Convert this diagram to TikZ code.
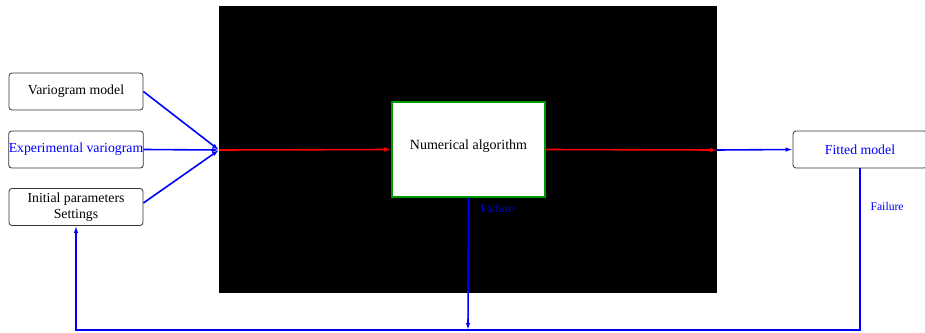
\documentclass[tikz,border=0pt]{standalone}
\usepackage{fontspec}
\setmainfont{Liberation Serif}
\usetikzlibrary{arrows.meta}
\begin{document}
\begin{tikzpicture}[x=1pt,y=-1pt,
  inbox/.style={draw=black!80,rounded corners=3pt,minimum width=134pt,minimum height=37pt,inner sep=0pt,font=\fontsize{13.8}{15.5}\selectfont,align=center,line width=0.8pt},
  blueline/.style={draw=blue,line width=1.6pt},
  redline/.style={draw=red,line width=1.6pt},
  tip/.style={-{Latex[length=7pt,width=4.5pt]}},
  faillbl/.style={font=\fontsize{11.7}{13}\selectfont,anchor=west}
]
\useasboundingbox (0,0) rectangle (925,332);
\fill[black] (219,6) rectangle (717,293);
\node[inbox] (vm) at (76,91.5) {Variogram model};
\node[inbox,text=blue] (ev) at (76,149.5) {Experimental variogram};
\node[inbox] (ip) at (76,207) {Initial parameters\\Settings};
\node[draw=green!60!black,fill=white,line width=1.8pt,minimum width=153pt,minimum height=95pt,inner sep=0pt,text depth=10pt,font=\fontsize{14}{16}\selectfont] (na) at (468.5,149.5) {Numerical algorithm};
\node[inbox,text=blue] (fm) at (860,149.5) {Fitted model};
\coordinate (join) at (219,150);
\coordinate (rend) at (717,150);
\coordinate (bl) at (76,330);
\coordinate (br) at (860,330);
\coordinate (bm) at (468,330);
\draw[blueline,tip] (vm.east) -- (join);
\draw[blueline,tip] (ev.east) -- (join);
\draw[blueline,tip] ([yshift=4pt]ip.east) -- (join);
\draw[redline,tip] (join) -- (na.west);
\draw[redline,tip] (na.east) -- (rend);
\draw[blueline,tip] (rend) -- (fm.west);
\draw[blueline,tip] (fm.south) -- (br) -- (bl) -- (ip.south);
\draw[blueline,tip] (na.south) -- (bm);
\node[faillbl,text=blue!80!black] (f1) at (477,208) {Failure};
\node[faillbl,text=blue] (f2) at (867,206) {Failure};
\end{tikzpicture}
\end{document}
